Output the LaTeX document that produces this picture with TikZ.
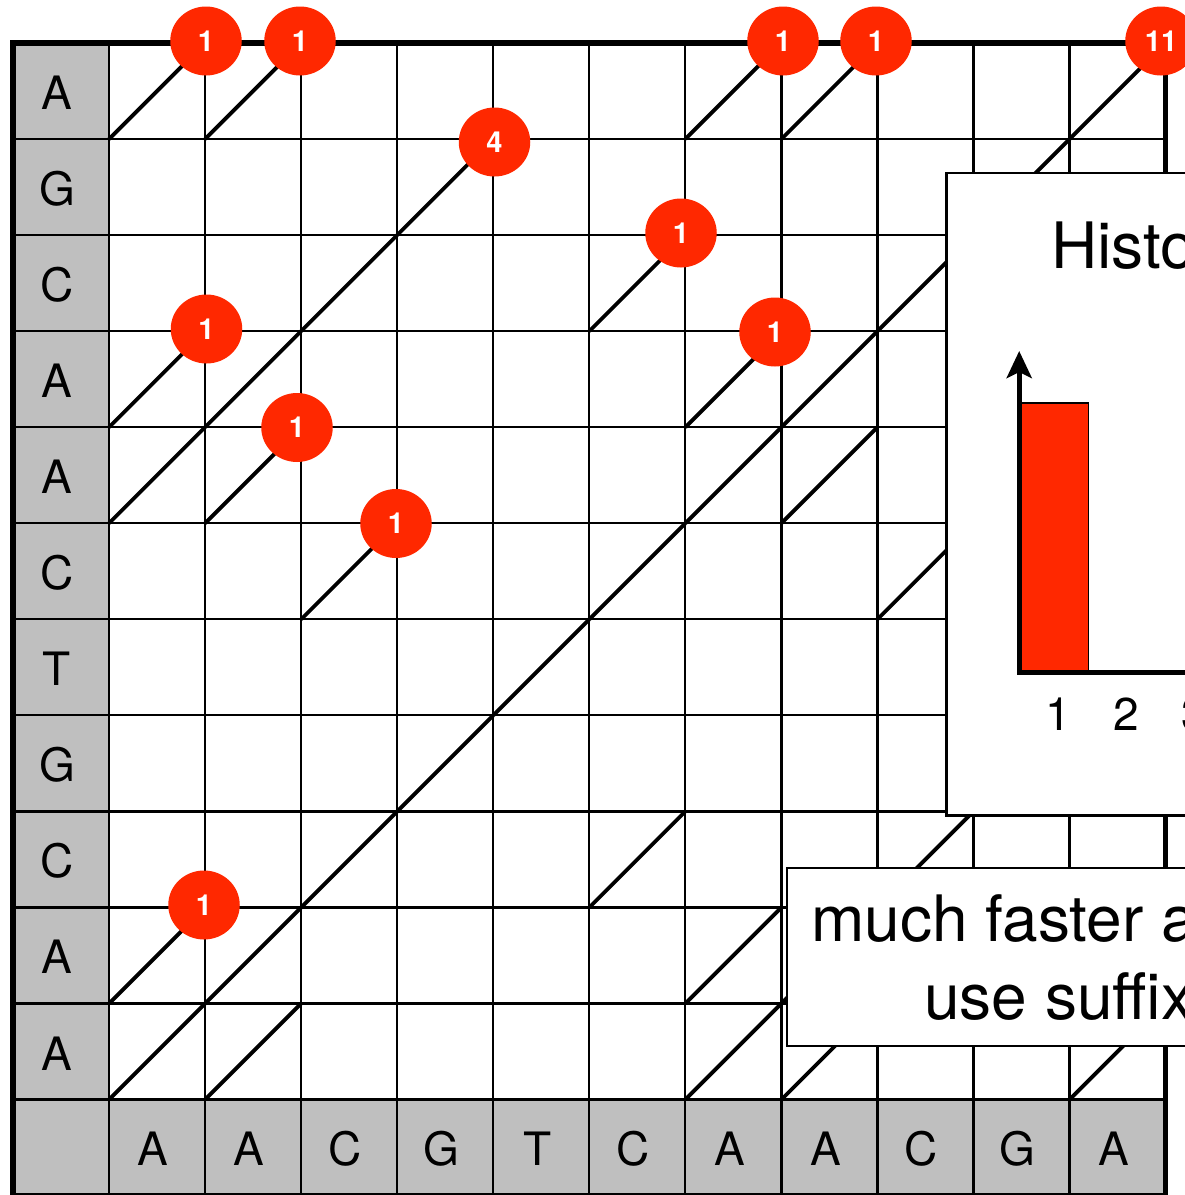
\documentclass[tikz,border=0pt]{standalone}
\usepackage{fontspec}
\setmainfont{TeX Gyre Heros}
\usetikzlibrary{shapes.geometric,arrows.meta}
\definecolor{dotred}{RGB}{255,40,0}
\definecolor{lblgray}{RGB}{191,191,191}
\tikzset{
 gridline/.style={line width=2.2pt, black},
 frame/.style={line width=5.5pt, line join=miter},
 diag/.style={line width=3.8pt},
 lbl/.style={inner sep=0pt, anchor=base, font=\fontsize{46}{46}\selectfont},
 dot/.style={ellipse, fill=dotred, minimum width=71.5pt, minimum height=69pt, inner sep=0pt, text=white, font=\fontsize{29}{29}\selectfont\bfseries},
 panel/.style={draw, fill=white, line width=2.5pt, inner sep=0pt, anchor=north west},
 bigtxt/.style={inner sep=0pt, anchor=base west, font=\fontsize{64}{64}\selectfont},
 axis/.style={line width=5pt, line join=miter},
}
\begin{document}
\begin{tikzpicture}[x=1pt,y=-1pt]
\useasboundingbox (0,0) rectangle (1185,1195);
\clip (0,0) rectangle (1185,1195);
\fill[white] (0,0) rectangle (1185,1195);
% label cells
\fill[lblgray] (13,43) rectangle (109.05,1195.6);
\fill[lblgray] (13,1099.55) rectangle (1165.6,1195.6);
% grid
\foreach \k in {1,...,11} {
  \draw[gridline] ({13+96.05*\k},43) -- ({13+96.05*\k},1195.6);
  \draw[gridline] (13,{43+96.05*\k}) -- (1165.6,{43+96.05*\k});
}
% frame
\draw[frame] (13,1195.6) -- (13,43) -- (1165.6,43) -- (1165.6,1195.6) -- cycle;
% labels
\foreach \L [count=\i] in {A,G,C,A,A,C,T,G,C,A,A}
  \node[lbl] (row\i) at (57,{43+96.05*(\i-1)+66.5}) {\L};
\foreach \L [count=\i] in {A,A,C,G,T,C,A,A,C,G,A}
  \node[lbl] (col\i) at ({13+96.05*\i+44},1165.5) {\L};
% matches
\foreach \r/\c in {1/1,1/2,1/7,1/8,1/11,
  2/4,2/10,
  3/3,3/6,3/9,
  4/1,4/2,4/7,4/8,4/11,
  5/1,5/2,5/7,5/8,5/11,
  6/3,6/6,6/9,
  7/5,
  8/4,8/10,
  9/3,9/6,9/9,
  10/1,10/2,10/7,10/8,10/11,
  11/1,11/2,11/7,11/8,11/11}
  \draw[diag] ({13+96.05*\c},{43+96.05*\r}) -- ({13+96.05*(\c+1)},{43+96.05*(\r-1)});
% run length markers
\node[dot] (d1) at (206,41) {1};
\node[dot] (d2) at (300,41) {1};
\node[dot] (d3) at (783,41) {1};
\node[dot] (d4) at (876,41) {1};
\node[dot] (d5) at (1161,41) {11};
\node[dot] (d6) at (494.5,142) {4};
\node[dot] (d7) at (681,233) {1};
\node[dot] (d8) at (206.5,329) {1};
\node[dot] (d9) at (775,332) {1};
\node[dot] (d10) at (297,427.5) {1};
\node[dot] (d11) at (396,523.5) {1};
\node[dot] (d12) at (204,905) {1};
% histogram panel
\node[panel, minimum width=420pt, minimum height=642.5pt] (hist) at (945,171.5) {};
\node[bigtxt] (histtitle) at (1051,268) {Histo};
\fill[dotred] (1021.7,403) rectangle (1088.3,670);
\draw[line width=1.5pt] (1021.7,670) -- (1021.7,403) -- (1088.3,403) -- (1088.3,670);
\coordinate (ytip) at (1019.2,351);
\coordinate (orig) at (1019.2,672.5);
\coordinate (xend) at (1300,672.5);
\draw[axis, {Stealth[length=27pt,width=25pt,inset=6pt]}-] (ytip) -- (orig) -- (xend);
\node[lbl] (t1) at (1058.5,730.7) {1};
\node[lbl] (t2) at (1126.5,730.7) {2};
\node[lbl] (t3) at (1194.5,730.7) {3};
% note panel
\node[panel, minimum width=420pt, minimum height=178pt] (note) at (785.7,866.7) {};
\node[bigtxt] (note1) at (811,941) {much faster a};
\node[bigtxt] (note2) at (924,1019) {use suffix};
\end{tikzpicture}
\end{document}
